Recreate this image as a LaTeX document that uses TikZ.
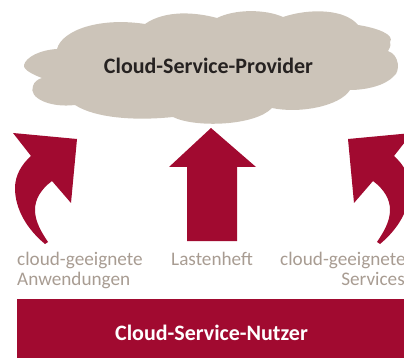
\documentclass[tikz,border=0pt]{standalone}
\usepackage{fontspec}
\setmainfont{Carlito}
\definecolor{W}{RGB}{161, 10, 48}
\definecolor{C}{RGB}{204, 196, 185}
\definecolor{T}{RGB}{168, 156, 146}
\definecolor{K}{RGB}{38, 34, 33}
\tikzset{
  kopf/.style={font=\bfseries\fontsize{22}{26}\selectfont},
  etikett/.style={text=T, font=\fontsize{19.2}{20}\selectfont, inner sep=0pt, anchor=base west},
  bogenpfeil/.style={fill=W}
}
\begin{document}
\begin{tikzpicture}[x=1pt,y=-1pt]
  \useasboundingbox (0,0) rectangle (404,358);
  \clip (0,0) rectangle (404,358);

  %Wolke
  \fill[color=C] (24,65) .. controls (26,57) and (40,50) .. (57,49)
    .. controls (62,30) and (100,17) .. (145,24)
    .. controls (165,10) and (195,12) .. (217,18)
    .. controls (235,9) and (265,9) .. (283,17)
    .. controls (310,8) and (345,9) .. (358,25)
    .. controls (378,28) and (395,35) .. (390,42)
    .. controls (391,46) and (390,48) .. (388,51)
    .. controls (400,55) and (400,72) .. (394,76)
    .. controls (385,86) and (365,90) .. (350,90)
    .. controls (340,106) and (300,114) .. (272,108)
    .. controls (255,126) and (195,128) .. (173,117)
    .. controls (135,121) and (95,118) .. (75,105)
    .. controls (50,108) and (28,98) .. (33,86)
    .. controls (34,82) and (38,79) .. (42,78)
    .. controls (34,75) and (23,70) .. (24,65) -- cycle;
  \node[kopf, text=K] (anbieter) at (208.5,66) {Cloud-Service-Provider};

  %Pfeil links
  \fill[bogenpfeil] (13,133) -- (77,139) -- (71,203) -- (52,181)
    .. controls (40,190) and (35,200) .. (35,210)
    .. controls (35,222) and (42,233) .. (48,242)
    -- (45,244)
    .. controls (28,230) and (15,210) .. (15,188)
    .. controls (15,175) and (22,164) .. (31,156) -- cycle;

  %Pfeil rechts, gespiegelt
  \begin{scope}[xshift=425pt, xscale=-1]
    \fill[bogenpfeil] (13,133) -- (77,139) -- (71,203) -- (52,181)
      .. controls (40,190) and (35,200) .. (35,210)
      .. controls (35,222) and (42,233) .. (48,242)
      -- (45,244)
      .. controls (28,230) and (15,210) .. (15,188)
      .. controls (15,175) and (22,164) .. (31,156) -- cycle;
  \end{scope}

  %Pfeil Mitte
  \fill[color=W] (211,128) -- (256,167) -- (237,167) -- (237,241)
    -- (187,241) -- (187,167) -- (169,167) -- cycle;

  %Beschriftungen
  \node[etikett] (anwendungen) at (17,265) {cloud-geeignete};
  \node[etikett] (anwendungen2) at (17,285) {Anwendungen};
  \node[etikett] (lastenheft) at (171,265) {Lastenheft};
  \node[etikett] (services) at (280,265) {cloud-geeignete};
  \node[etikett, anchor=base east] (services2) at (405,285) {Services};

  %Balken unten
  \fill[color=W] (17,299) rectangle (404,358);
  \node[kopf, text=white] (nutzer) at (211.5,333) {Cloud-Service-Nutzer};
\end{tikzpicture}
\end{document}
